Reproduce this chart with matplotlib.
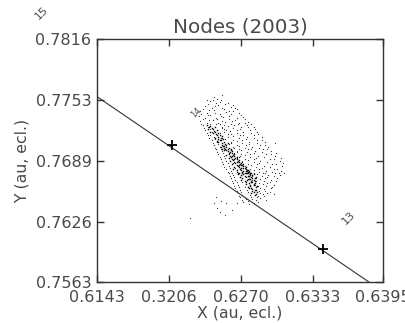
import matplotlib
matplotlib.use("Agg")
import matplotlib.pyplot as plt

# ---------------- data ----------------
x_ticks = [0.6143, 0.6206, 0.6270, 0.6333, 0.6395]
x_tick_labels = ["0.6143", "0.3206", "0.6270", "0.6333", "0.6395"]
y_ticks = [0.7563, 0.7626, 0.7689, 0.7753, 0.7816]
y_tick_labels = ["0.7563", "0.7626", "0.7689", "0.7753", "0.7816"]

# ecliptic line and node crossings
line_x = [0.6143, 0.63826]
line_y = [0.77560, 0.75630]
node_x = [0.6209, 0.6342]
node_y = [0.7706, 0.7597]

# day labels along the line
day_labels = ["15", "14", "13"]
day_x = [0.6094, 0.6230, 0.6365]
day_y = [0.7843, 0.7739, 0.7630]
day_sizes = [8, 6, 8]

# dense core of the cloud
core_x = [0.6240, 0.6243,
          0.6244, 0.6247, 0.6241,
          0.6246, 0.6249, 0.6243,
          0.6248, 0.6245, 0.6251, 0.6250,
          0.6250, 0.6247, 0.6253,
          0.6251, 0.6254, 0.6249, 0.6252,
          0.6253, 0.6256, 0.6250, 0.6258,
          0.6254, 0.6257, 0.6252, 0.6255,
          0.6256, 0.6259, 0.6253, 0.6261,
          0.6258, 0.6255, 0.6260, 0.6262, 0.6257,
          0.6259, 0.6262, 0.6257, 0.6264,
          0.6261, 0.6264, 0.6259, 0.6266, 0.6262,
          0.6263, 0.6266, 0.6260, 0.6268, 0.6264,
          0.6265, 0.6268, 0.6262, 0.6270, 0.6266, 0.6272,
          0.6267, 0.6270, 0.6264, 0.6272, 0.6268, 0.6274,
          0.6269, 0.6272, 0.6266, 0.6274, 0.6270, 0.6276, 0.6263,
          0.6271, 0.6274, 0.6268, 0.6276, 0.6272, 0.6278, 0.6266,
          0.6272, 0.6275, 0.6270, 0.6278, 0.6274, 0.6280, 0.6267,
          0.6274, 0.6277, 0.6271, 0.6279, 0.6276, 0.6282, 0.6269,
          0.6275, 0.6278, 0.6273, 0.6281, 0.6277, 0.6270,
          0.6277, 0.6280, 0.6274, 0.6282, 0.6279,
          0.6278, 0.6281, 0.6276, 0.6284,
          0.6280, 0.6277, 0.6283,
          0.6281, 0.6279,
          0.6282]
core_y = [0.7726, 0.7725,
          0.7723, 0.7724, 0.7722,
          0.7720, 0.7721, 0.7719,
          0.7717, 0.7718, 0.7716, 0.7718,
          0.7714, 0.7713, 0.7715,
          0.7711, 0.7712, 0.7710, 0.7711,
          0.7708, 0.7707, 0.7709, 0.7708,
          0.7705, 0.7706, 0.7704, 0.7705,
          0.7702, 0.7703, 0.7701, 0.7702,
          0.7699, 0.7700, 0.7698, 0.7699, 0.7700,
          0.7696, 0.7697, 0.7695, 0.7696,
          0.7693, 0.7694, 0.7692, 0.7693, 0.7694,
          0.7690, 0.7691, 0.7689, 0.7690, 0.7691,
          0.7687, 0.7688, 0.7686, 0.7687, 0.7688, 0.7686,
          0.7684, 0.7685, 0.7683, 0.7684, 0.7685, 0.7683,
          0.7681, 0.7682, 0.7680, 0.7681, 0.7682, 0.7680, 0.7681,
          0.7678, 0.7679, 0.7677, 0.7678, 0.7679, 0.7677, 0.7678,
          0.7675, 0.7676, 0.7674, 0.7675, 0.7676, 0.7674, 0.7675,
          0.7672, 0.7673, 0.7671, 0.7672, 0.7673, 0.7671, 0.7672,
          0.7669, 0.7670, 0.7668, 0.7669, 0.7670, 0.7669,
          0.7666, 0.7667, 0.7665, 0.7666, 0.7667,
          0.7663, 0.7664, 0.7662, 0.7663,
          0.7660, 0.7661, 0.7659,
          0.7657, 0.7656,
          0.7654]

# more core points between the rows above
core2_x = [0.6242, 0.6245, 0.6247, 0.6249, 0.6252, 0.6250, 0.6255, 0.6253,
           0.6257, 0.6255, 0.6258, 0.6261, 0.6259, 0.6263, 0.6260, 0.6265,
           0.6262, 0.6267, 0.6264, 0.6269, 0.6266, 0.6271, 0.6268, 0.6273,
           0.6270, 0.6275, 0.6277, 0.6273, 0.6279, 0.6276, 0.6271, 0.6281,
           0.6277, 0.6273, 0.6280, 0.6283, 0.6276, 0.6279, 0.6282, 0.6274,
           0.6281, 0.6278, 0.6283, 0.6279, 0.6282, 0.6280, 0.6284, 0.6283]
core2_y = [0.7724, 0.7722, 0.7719, 0.7716, 0.7713, 0.7712, 0.7709, 0.7706,
           0.7704, 0.7703, 0.7701, 0.7700, 0.7697, 0.7695, 0.7694, 0.7692,
           0.7691, 0.7689, 0.7688, 0.7686, 0.7685, 0.7685, 0.7683, 0.7682,
           0.7680, 0.7680, 0.7679, 0.7677, 0.7677, 0.7676, 0.7676, 0.7675,
           0.7673, 0.7673, 0.7671, 0.7672, 0.7670, 0.7668, 0.7668, 0.7667,
           0.7665, 0.7664, 0.7662, 0.7661, 0.7659, 0.7658, 0.7657, 0.7655]

# sparser halo around the core
halo_x = [0.6246, 0.6249,
          0.6243, 0.6248, 0.6252, 0.6256,
          0.6238, 0.6244, 0.6250, 0.6255, 0.6261, 0.6265,
          0.6234, 0.6240, 0.6246, 0.6251, 0.6257, 0.6263, 0.6268,
          0.6233, 0.6238, 0.6243, 0.6249, 0.6254, 0.6259, 0.6266, 0.6272,
          0.6234, 0.6240, 0.6245, 0.6251, 0.6256, 0.6262, 0.6268, 0.6276,
          0.6236, 0.6241, 0.6248, 0.6253, 0.6258, 0.6264, 0.6270, 0.6275, 0.6281,
          0.6238, 0.6244, 0.6251, 0.6255, 0.6260, 0.6266, 0.6272, 0.6278, 0.6284,
          0.6241, 0.6246, 0.6253, 0.6258, 0.6263, 0.6269, 0.6275, 0.6281, 0.6288,
          0.6244, 0.6249, 0.6256, 0.6261, 0.6266, 0.6271, 0.6277, 0.6284, 0.6291,
          0.6246, 0.6251, 0.6259, 0.6264, 0.6268, 0.6274, 0.6280, 0.6287, 0.6294,
          0.6248, 0.6253, 0.6261, 0.6266, 0.6270, 0.6276, 0.6282, 0.6289, 0.6296,
          0.6250, 0.6255, 0.6264, 0.6268, 0.6273, 0.6278, 0.6285, 0.6292, 0.6300,
          0.6252, 0.6257, 0.6266, 0.6271, 0.6276, 0.6281, 0.6287, 0.6295, 0.6304,
          0.6254, 0.6259, 0.6263, 0.6274, 0.6279, 0.6284, 0.6290, 0.6297, 0.6306,
          0.6257, 0.6261, 0.6265, 0.6277, 0.6281, 0.6286, 0.6292, 0.6299, 0.6305,
          0.6259, 0.6263, 0.6267, 0.6280, 0.6284, 0.6289, 0.6294, 0.6300, 0.6304,
          0.6261, 0.6265, 0.6269, 0.6283, 0.6287, 0.6291, 0.6296, 0.6302,
          0.6263, 0.6267, 0.6271, 0.6285, 0.6289, 0.6293, 0.6299,
          0.6265, 0.6269, 0.6273, 0.6286, 0.6290, 0.6296,
          0.6267, 0.6271, 0.6276, 0.6285, 0.6289, 0.6293,
          0.6269, 0.6274, 0.6279, 0.6283, 0.6287,
          0.6272, 0.6277, 0.6281]
halo_y = [0.7756, 0.7754,
          0.7751, 0.7749, 0.7752, 0.7748,
          0.7746, 0.7744, 0.7747, 0.7743, 0.7745, 0.7744,
          0.7741, 0.7739, 0.7742, 0.7738, 0.7740, 0.7741, 0.7739,
          0.7736, 0.7734, 0.7737, 0.7733, 0.7735, 0.7736, 0.7734, 0.7735,
          0.7731, 0.7729, 0.7732, 0.7728, 0.7730, 0.7731, 0.7729, 0.7730,
          0.7726, 0.7724, 0.7727, 0.7723, 0.7725, 0.7726, 0.7724, 0.7726, 0.7724,
          0.7721, 0.7719, 0.7718, 0.7722, 0.7720, 0.7721, 0.7719, 0.7721, 0.7719,
          0.7716, 0.7714, 0.7713, 0.7717, 0.7715, 0.7716, 0.7714, 0.7716, 0.7714,
          0.7711, 0.7709, 0.7712, 0.7708, 0.7710, 0.7711, 0.7709, 0.7711, 0.7709,
          0.7706, 0.7704, 0.7707, 0.7703, 0.7705, 0.7706, 0.7704, 0.7706, 0.7704,
          0.7701, 0.7699, 0.7702, 0.7698, 0.7700, 0.7701, 0.7699, 0.7701, 0.7699,
          0.7696, 0.7694, 0.7697, 0.7693, 0.7695, 0.7696, 0.7694, 0.7696, 0.7694,
          0.7691, 0.7689, 0.7692, 0.7688, 0.7690, 0.7691, 0.7689, 0.7691, 0.7689,
          0.7686, 0.7684, 0.7687, 0.7683, 0.7685, 0.7686, 0.7684, 0.7686, 0.7684,
          0.7681, 0.7679, 0.7682, 0.7678, 0.7680, 0.7681, 0.7679, 0.7681, 0.7679,
          0.7676, 0.7674, 0.7677, 0.7673, 0.7675, 0.7676, 0.7674, 0.7676, 0.7674,
          0.7671, 0.7669, 0.7672, 0.7668, 0.7670, 0.7671, 0.7669, 0.7671,
          0.7666, 0.7664, 0.7667, 0.7663, 0.7665, 0.7666, 0.7664,
          0.7661, 0.7659, 0.7662, 0.7658, 0.7660, 0.7661,
          0.7656, 0.7654, 0.7657, 0.7653, 0.7655, 0.7656,
          0.7651, 0.7649, 0.7652, 0.7648, 0.7650,
          0.7646, 0.7644, 0.7645]

# second halo layer, between the rows above
halo2_x = [0.6245, 0.6251,
           0.6241, 0.6247, 0.6258, 0.6263,
           0.6236, 0.6242, 0.6253, 0.6259, 0.6266,
           0.6235, 0.6241, 0.6247, 0.6252, 0.6261, 0.6270,
           0.6236, 0.6242, 0.6248, 0.6253, 0.6259, 0.6265, 0.6273,
           0.6235, 0.6243, 0.6250, 0.6255, 0.6261, 0.6267, 0.6273, 0.6279,
           0.6237, 0.6243, 0.6253, 0.6257, 0.6263, 0.6269, 0.6276, 0.6282,
           0.6240, 0.6243, 0.6255, 0.6261, 0.6266, 0.6272, 0.6279, 0.6285,
           0.6242, 0.6247, 0.6258, 0.6263, 0.6268, 0.6274, 0.6281, 0.6288,
           0.6245, 0.6250, 0.6261, 0.6266, 0.6271, 0.6277, 0.6284, 0.6291,
           0.6247, 0.6252, 0.6263, 0.6268, 0.6273, 0.6279, 0.6286, 0.6293,
           0.6249, 0.6254, 0.6266, 0.6270, 0.6275, 0.6281, 0.6288, 0.6296, 0.6301,
           0.6251, 0.6256, 0.6269, 0.6273, 0.6278, 0.6283, 0.6290, 0.6299, 0.6305,
           0.6253, 0.6258, 0.6271, 0.6276, 0.6281, 0.6286, 0.6293, 0.6301, 0.6307,
           0.6255, 0.6260, 0.6273, 0.6278, 0.6283, 0.6288, 0.6295, 0.6302,
           0.6258, 0.6262, 0.6275, 0.6281, 0.6286, 0.6291, 0.6297, 0.6303,
           0.6260, 0.6264, 0.6278, 0.6283, 0.6288, 0.6293, 0.6299,
           0.6262, 0.6266, 0.6280, 0.6286, 0.6290, 0.6295, 0.6301,
           0.6264, 0.6268, 0.6282, 0.6287, 0.6292, 0.6297,
           0.6266, 0.6270, 0.6275, 0.6287, 0.6291, 0.6295,
           0.6268, 0.6273, 0.6278, 0.6284, 0.6290,
           0.6271, 0.6276, 0.6280, 0.6285]
halo2_y = [0.7753, 0.7750,
           0.7748, 0.7746, 0.7749, 0.7747,
           0.7743, 0.7742, 0.7744, 0.7741, 0.7743,
           0.7738, 0.7737, 0.7739, 0.7736, 0.7738, 0.7737,
           0.7733, 0.7732, 0.7734, 0.7731, 0.7733, 0.7732, 0.7733,
           0.7728, 0.7727, 0.7729, 0.7726, 0.7728, 0.7727, 0.7729, 0.7728,
           0.7723, 0.7722, 0.7724, 0.7721, 0.7723, 0.7722, 0.7724, 0.7722,
           0.7718, 0.7716, 0.7719, 0.7717, 0.7718, 0.7716, 0.7718, 0.7717,
           0.7713, 0.7712, 0.7714, 0.7711, 0.7713, 0.7712, 0.7713, 0.7711,
           0.7708, 0.7707, 0.7709, 0.7706, 0.7708, 0.7707, 0.7708, 0.7706,
           0.7703, 0.7702, 0.7704, 0.7701, 0.7703, 0.7702, 0.7703, 0.7701,
           0.7698, 0.7697, 0.7699, 0.7696, 0.7698, 0.7697, 0.7698, 0.7696, 0.7697,
           0.7693, 0.7692, 0.7694, 0.7691, 0.7693, 0.7692, 0.7693, 0.7691, 0.7692,
           0.7688, 0.7687, 0.7689, 0.7686, 0.7688, 0.7687, 0.7688, 0.7686, 0.7687,
           0.7683, 0.7682, 0.7684, 0.7681, 0.7683, 0.7682, 0.7683, 0.7681,
           0.7678, 0.7677, 0.7679, 0.7676, 0.7678, 0.7677, 0.7678, 0.7676,
           0.7673, 0.7672, 0.7674, 0.7671, 0.7673, 0.7672, 0.7673,
           0.7668, 0.7667, 0.7669, 0.7666, 0.7668, 0.7667, 0.7668,
           0.7663, 0.7662, 0.7664, 0.7661, 0.7663, 0.7662,
           0.7658, 0.7657, 0.7659, 0.7656, 0.7658, 0.7657,
           0.7653, 0.7652, 0.7654, 0.7651, 0.7653,
           0.7648, 0.7647, 0.7649, 0.7646]

# stray points around the cloud
stray_x = [0.6248, 0.6252, 0.6249, 0.6251, 0.6257, 0.6266, 0.6262, 0.6225,
           0.6256, 0.6246, 0.6253, 0.6240, 0.6300, 0.6308, 0.6299, 0.6292]
stray_y = [0.7652, 0.7647, 0.7640, 0.7636, 0.7645, 0.7645, 0.7638, 0.7630,
           0.7633, 0.7645, 0.7758, 0.7752, 0.7708, 0.7676, 0.7655, 0.7648]

# ---------------- plot ----------------
txt = "#4a4a4a"
fig = plt.figure(figsize=(4.05, 3.23), dpi=100)
ax = fig.add_axes([0.2395, 0.1269, 0.7062, 0.7523])

dot = dict(linestyle="none", marker="s", markeredgewidth=0)
ax.plot(halo_x, halo_y, markersize=0.8, color="#333333", **dot)
ax.plot(halo2_x, halo2_y, markersize=0.8, color="#444444", **dot)
ax.plot(core_x, core_y, markersize=1.0, color="#000000", **dot)
ax.plot(core2_x, core2_y, markersize=1.0, color="#111111", **dot)
ax.plot(stray_x, stray_y, markersize=0.8, color="#444444", **dot)

ax.plot(line_x, line_y, color="#333333", linewidth=0.8)
ax.plot(node_x, node_y, linestyle="none", marker="+", markersize=7,
        markeredgewidth=1.3, color="black")

for lab, lx, ly, fs in zip(day_labels, day_x, day_y, day_sizes):
    ax.text(lx, ly, lab, fontsize=fs, rotation=45, color=txt,
            ha="center", va="center", clip_on=False)

ax.set_xlim(x_ticks[0], x_ticks[-1])
ax.set_ylim(y_ticks[0], y_ticks[-1])
ax.set_xticks(x_ticks)
ax.set_xticklabels(x_tick_labels)
ax.set_yticks(y_ticks)
ax.set_yticklabels(y_tick_labels)
ax.tick_params(direction="in", length=5, width=1, colors="#333333",
               top=True, right=True, labelsize=11.5, labelcolor=txt)
ax.tick_params(axis="x", pad=6)
ax.tick_params(axis="y", pad=4)
for s in ax.spines.values():
    s.set_color("#333333")
    s.set_linewidth(1)

ax.set_title("Nodes (2003)", fontsize=14.3, color=txt, pad=5)
ax.set_xlabel("X (au, ecl.)", fontsize=11.3, color=txt, labelpad=0)
ax.set_ylabel("Y (au, ecl.)", fontsize=11.3, color=txt, labelpad=4)

fig.savefig("out.png", dpi=100)
